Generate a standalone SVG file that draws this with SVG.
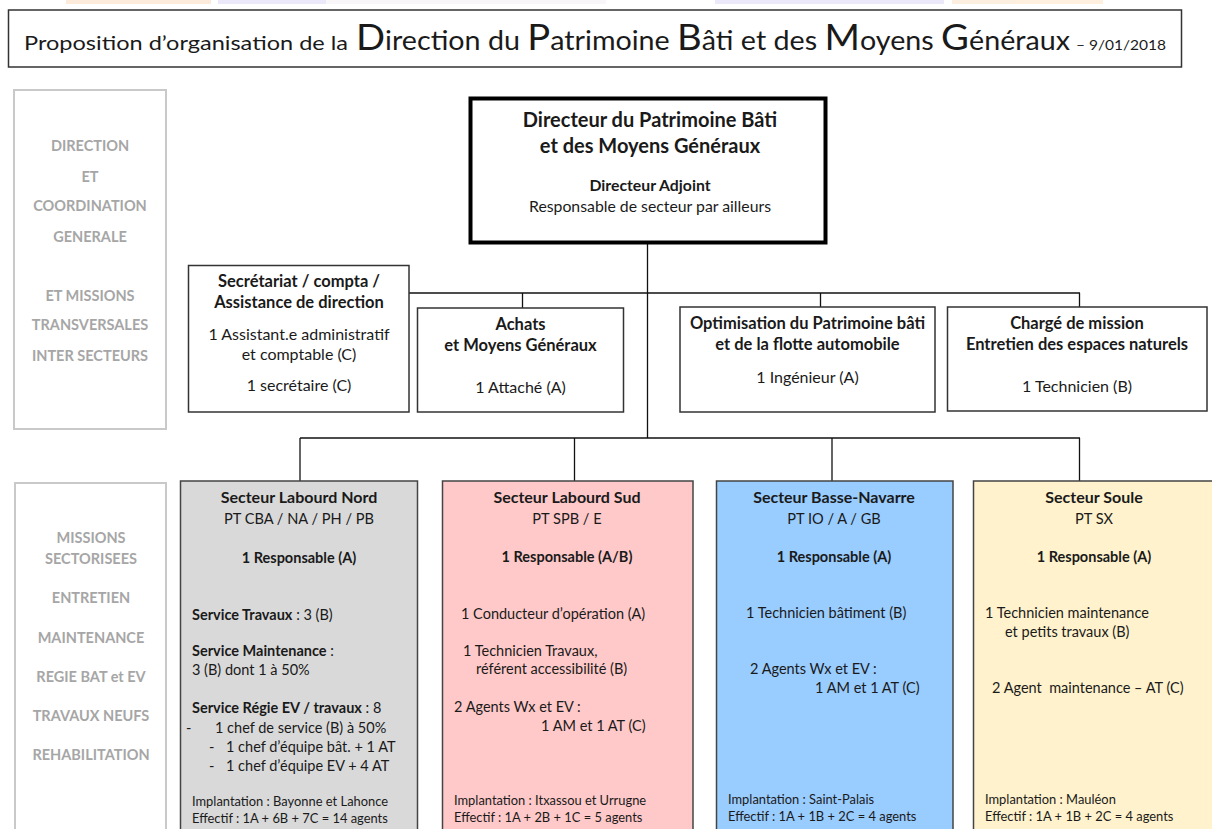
<svg xmlns="http://www.w3.org/2000/svg" width="1212" height="829" viewBox="0 0 1212 829">
<style>
text{font-family:Lato,"Liberation Sans",sans-serif;fill:#1a1a1a}
.b{font-weight:bold}
.c{text-anchor:middle}
.m16{font-size:16.5px}
.m15{font-size:16px}
.s16{font-size:16px}
.s14{font-size:14.6px}
.s13{font-size:14.5px}
.t12{font-size:12.9px}
.side{fill:#a6a6a6;font-weight:bold;font-size:14.5px;text-anchor:middle}
.panel{fill:#fff;stroke:#c9c9c9;stroke-width:2}
.box{fill:#fff;stroke:#333;stroke-width:1.5}
.sec{stroke:#444;stroke-width:1.5}
.conn line{stroke:#111;stroke-width:1.3}
</style>
<rect width="1212" height="829" fill="#fff"/>
<g id="topstrip" opacity="0.5">
<rect x="66" y="0" width="145" height="4" fill="#fbd9b8"/>
<rect x="218" y="0" width="108" height="4" fill="#d9d5f5"/>
<rect x="326" y="0" width="280" height="4" fill="#f3eef5"/>
<rect x="715" y="0" width="229" height="4" fill="#d9d5f5"/>
<rect x="952" y="0" width="151" height="4" fill="#fde0c0"/>
</g>
<g id="title">
<rect x="8.5" y="10" width="1173" height="57" fill="#fff" stroke="#333" stroke-width="1.5"/>
<text x="24" y="50" font-size="20" textLength="324" lengthAdjust="spacingAndGlyphs">Proposition d’organisation de la</text>
<text x="356" y="50" font-size="27" textLength="714" lengthAdjust="spacingAndGlyphs"><tspan font-size="36">D</tspan>irection du <tspan font-size="36">P</tspan>atrimoine <tspan font-size="36">B</tspan>âti et des <tspan font-size="36">M</tspan>oyens <tspan font-size="36">G</tspan>énéraux</text>
<text x="1076" y="50" font-size="14" textLength="90" lengthAdjust="spacingAndGlyphs">– 9/01/2018</text>
</g>
<g id="panel-direction">
<rect class="panel" x="14" y="90" width="152" height="339"/>
<text class="side" x="90" y="151">DIRECTION</text>
<text class="side" x="90" y="182">ET</text>
<text class="side" x="90" y="211">COORDINATION</text>
<text class="side" x="90" y="242">GENERALE</text>
<text class="side" x="90" y="301">ET MISSIONS</text>
<text class="side" x="90" y="330">TRANSVERSALES</text>
<text class="side" x="90" y="361">INTER SECTEURS</text>
</g>
<g id="panel-missions">
<rect class="panel" x="15" y="483" width="151" height="360"/>
<text class="side" x="91" y="543">MISSIONS</text>
<text class="side" x="91" y="564">SECTORISEES</text>
<text class="side" x="91" y="603">ENTRETIEN</text>
<text class="side" x="91" y="643">MAINTENANCE</text>
<text class="side" x="91" y="682">REGIE BAT et EV</text>
<text class="side" x="91" y="721">TRAVAUX NEUFS</text>
<text class="side" x="91" y="760">REHABILITATION</text>
</g>
<g class="conn" id="connectors">
<line x1="647.5" y1="243" x2="647.5" y2="438"/>
<line x1="409" y1="293" x2="1080" y2="293"/>
<line x1="522.5" y1="293" x2="522.5" y2="308"/>
<line x1="820.5" y1="293" x2="820.5" y2="307"/>
<line x1="1079.5" y1="293" x2="1079.5" y2="307"/>
<line x1="300" y1="438" x2="1080" y2="438"/>
<line x1="300" y1="438" x2="300" y2="481"/>
<line x1="574.5" y1="438" x2="574.5" y2="481"/>
<line x1="832" y1="438" x2="832" y2="481"/>
<line x1="1079.5" y1="438" x2="1079.5" y2="481"/>
</g>
<g id="directeur">
<rect x="470.5" y="98.5" width="355" height="144" fill="#fff" stroke="#000" stroke-width="4"/>
<text class="b c" x="650" y="127" font-size="20">Directeur du Patrimoine Bâti</text>
<text class="b c" x="650" y="153" font-size="20">et des Moyens Généraux</text>
<text class="b c" x="650" y="191" font-size="15.8">Directeur Adjoint</text>
<text class="c" x="650" y="212" font-size="15.8" fill="#404040">Responsable de secteur par ailleurs</text>
</g>
<g id="secretariat">
<rect class="box" x="188.5" y="265.5" width="220.5" height="146.5"/>
<text class="b c m16" x="299" y="287">Secrétariat / compta /</text>
<text class="b c m16" x="299" y="308">Assistance de direction</text>
<text class="c m15" x="299" y="340">1 Assistant.e administratif</text>
<text class="c m15" x="299" y="360">et comptable (C)</text>
<text class="c m15" x="299" y="391">1 secrétaire (C)</text>
</g>
<g id="achats">
<rect class="box" x="417.5" y="308" width="206" height="104"/>
<text class="b c m16" x="520.5" y="330">Achats</text>
<text class="b c m16" x="520.5" y="351">et Moyens Généraux</text>
<text class="c m15" x="520.5" y="393">1 Attaché (A)</text>
</g>
<g id="optimisation">
<rect class="box" x="680" y="307" width="255" height="105"/>
<text class="b c m16" x="807.5" y="329">Optimisation du Patrimoine bâti</text>
<text class="b c m16" x="807.5" y="350">et de la flotte automobile</text>
<text class="c m15" x="807.5" y="383">1 Ingénieur (A)</text>
</g>
<g id="charge-mission">
<rect class="box" x="947.5" y="307" width="259.5" height="104"/>
<text class="b c m16" x="1077" y="329">Chargé de mission</text>
<text class="b c m16" x="1077" y="350">Entretien des espaces naturels</text>
<text class="c m15" x="1077" y="392">1 Technicien (B)</text>
</g>
<g id="labourd-nord">
<rect class="sec" x="180.5" y="481" width="237" height="360" fill="#d9d9d9"/>
<text class="b c s16" x="299" y="503">Secteur Labourd Nord</text>
<text class="c s14" x="299" y="524">PT CBA / NA / PH / PB</text>
<text class="b c s13" x="299" y="563">1 Responsable (A)</text>
<text class="s13" x="192" y="620"><tspan class="b">Service Travaux</tspan> : 3 (B)</text>
<text class="s13" x="192" y="656"><tspan class="b">Service Maintenance</tspan> :</text>
<text class="s13" x="192" y="675">3 (B) dont 1 à 50%</text>
<text class="s13" x="192" y="713"><tspan class="b">Service Régie EV / travaux</tspan> : 8</text>
<text class="s13" x="186" y="733">-</text>
<text class="s13" x="215" y="733">1 chef de service (B) à 50%</text>
<text class="s13" x="209" y="752">-</text>
<text class="s13" x="226" y="752">1 chef d’équipe bât. + 1 AT</text>
<text class="s13" x="209" y="771">-</text>
<text class="s13" x="226" y="771">1 chef d’équipe EV + 4 AT</text>
<text class="t12" x="192" y="806">Implantation : Bayonne et Lahonce</text>
<text class="t12" x="192" y="823">Effectif : 1A + 6B + 7C = 14 agents</text>
</g>
<g id="labourd-sud">
<rect class="sec" x="442.5" y="481" width="250.5" height="360" fill="#ffc9c9"/>
<text class="b c s16" x="567" y="503">Secteur Labourd Sud</text>
<text class="c s14" x="567" y="524">PT SPB / E</text>
<text class="b c s13" x="567" y="562">1 Responsable (A/B)</text>
<text class="s13" x="461" y="619">1 Conducteur d’opération (A)</text>
<text class="s13" x="463" y="656">1 Technicien Travaux,</text>
<text class="s13" x="476" y="674">référent accessibilité (B)</text>
<text class="s13" x="454" y="712">2 Agents Wx et EV :</text>
<text class="s13" x="541" y="731">1 AM et 1 AT (C)</text>
<text class="t12" x="454" y="805">Implantation : Itxassou et Urrugne</text>
<text class="t12" x="454" y="822">Effectif : 1A + 2B + 1C = 5 agents</text>
</g>
<g id="basse-navarre">
<rect class="sec" x="716.5" y="481" width="236.5" height="360" fill="#99ccff"/>
<text class="b c s16" x="834" y="503">Secteur Basse-Navarre</text>
<text class="c s14" x="834" y="524">PT IO / A / GB</text>
<text class="b c s13" x="834" y="562">1 Responsable (A)</text>
<text class="s13" x="746" y="618">1 Technicien bâtiment (B)</text>
<text class="s13" x="750" y="674">2 Agents Wx et EV :</text>
<text class="s13" x="815" y="693">1 AM et 1 AT (C)</text>
<text class="t12" x="728" y="804">Implantation : Saint-Palais</text>
<text class="t12" x="728" y="821">Effectif : 1A + 1B + 2C = 4 agents</text>
</g>
<g id="soule">
<rect class="sec" x="973.5" y="481" width="260" height="360" fill="#fff2cc"/>
<text class="b c s16" x="1094" y="503">Secteur Soule</text>
<text class="c s14" x="1094" y="524">PT SX</text>
<text class="b c s13" x="1094" y="562">1 Responsable (A)</text>
<text class="s13" x="985" y="618">1 Technicien maintenance</text>
<text class="s13" x="1005" y="637">et petits travaux (B)</text>
<text class="s13" x="992" y="693" xml:space="preserve">2 Agent  maintenance – AT (C)</text>
<text class="t12" x="985" y="804">Implantation : Mauléon</text>
<text class="t12" x="985" y="821">Effectif : 1A + 1B + 2C = 4 agents</text>
</g>
</svg>
